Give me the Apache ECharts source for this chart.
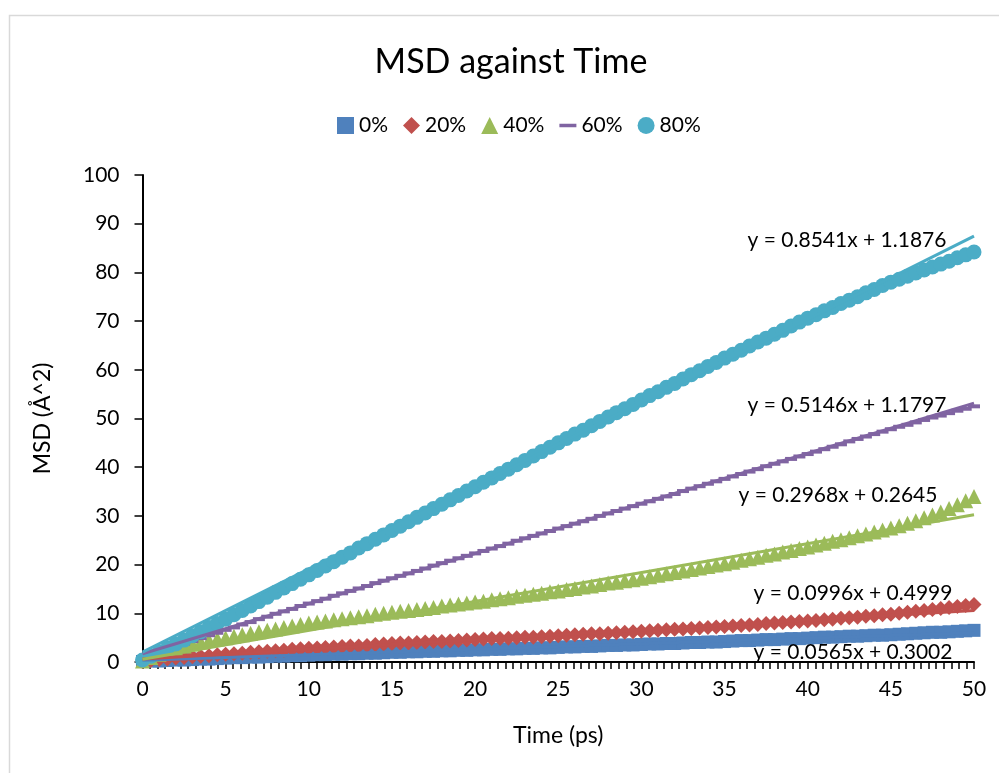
<!DOCTYPE html>
<html>
<head>
<meta charset="utf-8">
<script src="https://cdn.jsdelivr.net/npm/echarts@6/dist/echarts.min.js"></script>
<style>
html,body{margin:0;padding:0;background:#fff;}
#chart{width:999px;height:773px;}
</style>
</head>
<body>
<div id="chart"></div>
<script>
// ---- data ----
const time = [0,0.5,1,1.5,2,2.5,3,3.5,4,4.5,5,5.5,6,6.5,7,7.5,8,8.5,9,9.5,
10,10.5,11,11.5,12,12.5,13,13.5,14,14.5,15,15.5,16,16.5,17,17.5,18,18.5,19,19.5,
20,20.5,21,21.5,22,22.5,23,23.5,24,24.5,25,25.5,26,26.5,27,27.5,28,28.5,29,29.5,
30,30.5,31,31.5,32,32.5,33,33.5,34,34.5,35,35.5,36,36.5,37,37.5,38,38.5,39,39.5,
40,40.5,41,41.5,42,42.5,43,43.5,44,44.5,45,45.5,46,46.5,47,47.5,48,48.5,49,49.5,50];

const msd0 = [0.1,0.2,0.2,0.3,0.4,0.4,0.5,0.6,0.6,0.7,0.8,
0.9,0.9,1.0,1.0,1.1,1.2,1.2,1.3,1.3,1.4,
1.5,1.5,1.6,1.6,1.7,1.7,1.8,1.8,1.9,2.0,
2.0,2.1,2.1,2.2,2.2,2.3,2.3,2.4,2.4,2.5,
2.5,2.6,2.6,2.7,2.7,2.8,2.8,2.9,2.9,3.0,
3.1,3.1,3.2,3.2,3.3,3.4,3.4,3.5,3.5,3.6,
3.7,3.7,3.8,3.8,3.9,4.0,4.0,4.1,4.1,4.2,
4.3,4.4,4.4,4.5,4.6,4.6,4.7,4.8,4.8,4.9,
5.0,5.1,5.1,5.2,5.3,5.3,5.4,5.5,5.5,5.6,
5.7,5.8,5.9,6.0,6.1,6.1,6.2,6.3,6.4,6.5];

const msd20 = [0.1,0.3,0.5,0.6,0.8,0.9,1.1,1.2,1.3,1.5,1.6,
1.7,1.8,2.0,2.1,2.2,2.3,2.4,2.6,2.7,2.8,
2.9,3.0,3.1,3.2,3.3,3.3,3.4,3.6,3.7,3.8,
3.9,3.9,4.0,4.1,4.2,4.2,4.3,4.4,4.5,4.6,
4.7,4.8,4.8,4.9,5.0,5.1,5.1,5.2,5.3,5.4,
5.5,5.6,5.7,5.8,5.8,5.9,6.0,6.1,6.2,6.3,
6.4,6.5,6.6,6.7,6.8,6.9,7.0,7.1,7.2,7.3,
7.4,7.5,7.6,7.7,7.9,8.0,8.1,8.2,8.3,8.4,
8.5,8.7,8.8,9.0,9.1,9.2,9.4,9.5,9.7,9.8,
10.0,10.2,10.4,10.6,10.8,11.0,11.2,11.4,11.6,11.8];

const msd40 = [0.2,0.9,1.6,2.2,2.8,3.3,3.7,4.1,4.4,4.7,5.0,
5.3,5.6,5.9,6.2,6.5,6.8,7.1,7.4,7.7,8.0,
8.2,8.4,8.7,8.9,9.1,9.3,9.5,9.8,10.0,10.2,
10.4,10.6,10.8,11.0,11.2,11.5,11.7,11.9,12.1,12.3,
12.5,12.8,13.0,13.2,13.5,13.7,13.9,14.1,14.4,14.6,
14.9,15.1,15.4,15.6,15.9,16.2,16.4,16.7,16.9,17.2,
17.5,17.8,18.1,18.4,18.7,19.0,19.3,19.6,19.9,20.2,
20.5,20.9,21.2,21.5,21.9,22.2,22.6,22.9,23.3,23.6,
24.0,24.4,24.8,25.1,25.5,25.9,26.3,26.7,27.1,27.5,
28.0,28.5,29.0,29.6,30.2,30.8,31.5,32.3,33.1,34.0];

const msd60 = [0.6,1.3,1.9,2.6,3.2,3.8,4.3,4.9,5.5,6.0,6.6,
7.1,7.7,8.2,8.8,9.3,9.9,10.4,10.9,11.5,12.0,
12.5,13.0,13.6,14.1,14.6,15.1,15.6,16.2,16.7,17.2,
17.7,18.2,18.7,19.2,19.8,20.3,20.8,21.3,21.8,22.3,
22.8,23.3,23.8,24.3,24.9,25.4,25.9,26.4,26.9,27.4,
27.9,28.4,28.9,29.4,30.0,30.5,31.0,31.5,32.0,32.5,
33.0,33.5,34.0,34.5,35.1,35.6,36.1,36.6,37.1,37.6,
38.1,38.6,39.1,39.6,40.2,40.7,41.2,41.7,42.2,42.7,
43.2,43.7,44.2,44.7,45.3,45.8,46.3,46.8,47.3,47.8,
48.3,48.7,49.2,49.7,50.2,50.6,51.1,51.6,52.0,52.5];

const msd80 = [0.4,1.2,2.0,2.8,3.7,4.5,5.4,6.2,7.1,7.9,8.8,
9.7,10.6,11.5,12.4,13.3,14.3,15.2,16.1,17.0,17.9,
18.8,19.7,20.6,21.5,22.4,23.4,24.3,25.2,26.1,27.0,
27.9,28.8,29.7,30.6,31.5,32.4,33.3,34.2,35.1,36.0,
36.9,37.8,38.7,39.6,40.5,41.4,42.3,43.2,44.1,45.0,
45.9,46.8,47.6,48.5,49.4,50.3,51.2,52.0,52.9,53.8,
54.7,55.5,56.4,57.2,58.1,59.0,59.8,60.7,61.5,62.4,
63.2,64.0,64.9,65.7,66.5,67.3,68.1,69.0,69.8,70.6,
71.3,72.1,72.8,73.6,74.3,75.0,75.8,76.5,77.3,78.0,
78.6,79.2,79.9,80.5,81.1,81.7,82.3,83.0,83.6,84.2];

const seriesNames = ['0%','20%','40%','60%','80%'];
const trendSlopes = [0.0565, 0.0996, 0.2968, 0.5146, 0.8541];
const trendIntercepts = [0.3002, 0.4999, 0.2645, 1.1797, 1.1876];
const yTicks = [0,10,20,30,40,50,60,70,80,90,100];
const xTicks = [0,5,10,15,20,25,30,35,40,45,50];

// ---- styling ----
const colors = ['#4F81BD','#C0504D','#9BBB59','#8064A2','#4BACC6'];
const symbols = ['rect','diamond','triangle','rect','circle'];
const symbolSizes = [13,15,15,[12,4],15];
const dashIcon = 'path://M0,0L14,0L14,0.01L0,0.01Z M0,5.6L14,5.6L14,8.4L0,8.4Z M0,13.99L14,13.99L14,14L0,14Z';
const legendIcons = ['rect','diamond','triangle',dashIcon,'circle'];
const FONT = 'Lato';

const allData = [msd0, msd20, msd40, msd60, msd80];

const series = [];
allData.forEach((vals, k) => {
  series.push({
    name: seriesNames[k],
    type: 'scatter',
    clip: false,
    symbol: symbols[k],
    symbolSize: symbolSizes[k],
    itemStyle: {color: colors[k], opacity: 1},
    data: time.map((t, i) => [t, vals[i]]),
    z: 2 + k,
    silent: true
  });
});
// trendlines (Excel linear fits; x in the equation is the point number 1..n)
allData.forEach((vals, k) => {
  const n = time.length;
  const m = trendSlopes[k], b = trendIntercepts[k];
  series.push({
    name: seriesNames[k] + ' trend',
    type: 'line',
    clip: false,
    symbol: 'none',
    lineStyle: {color: colors[k], width: 3},
    data: [[time[0], m * 1 + b], [time[n - 1], m * n + b]],
    z: 10,
    silent: true
  });
});

const trendLabels = trendSlopes.map((m, k) => 'y = ' + m.toFixed(4) + 'x + ' + trendIntercepts[k].toFixed(4));
const labelPos = [[853,652],[853,593],[838,495],[847,405],[847,240]];

const chart = echarts.init(document.getElementById('chart'), null, {renderer: 'canvas'});
chart.setOption({
  animation: false,
  backgroundColor: '#ffffff',
  textStyle: {fontFamily: FONT},
  grid: {left: 142.5, right: 25, top: 175, bottom: 111, containLabel: false},
  legend: {
    data: seriesNames.map((n, k) => ({name: n, icon: legendIcons[k]})),
    left: 332, top: 110,
    itemWidth: 17, itemHeight: 17, itemGap: 15,
    textStyle: {fontFamily: FONT, fontSize: 21, color: '#000'},
    selectedMode: false
  },
  xAxis: {
    type: 'value', min: 0, max: 50, interval: 5,
    name: 'Time (ps)', nameLocation: 'middle', nameGap: 62,
    nameTextStyle: {fontFamily: FONT, fontSize: 23, color: '#000'},
    axisLine: {show: true, lineStyle: {color: '#000', width: 2}},
    axisTick: {show: true, inside: false, length: 7, lineStyle: {color: '#000', width: 1.5}},
    minorTick: {show: true, splitNumber: 11, length: 7, lineStyle: {color: '#000', width: 1.5}},
    axisLabel: {fontFamily: FONT, fontSize: 21, color: '#000', margin: 17,
      formatter: v => xTicks.includes(v) ? String(v) : ''},
    splitLine: {show: false}
  },
  yAxis: {
    type: 'value', min: 0, max: 100, interval: 10,
    name: 'MSD (Å^2)', nameLocation: 'middle', nameGap: 88,
    nameTextStyle: {fontFamily: FONT, fontSize: 23, color: '#000'},
    axisLine: {show: true, lineStyle: {color: '#000', width: 2}},
    axisTick: {show: true, inside: false, length: 8, lineStyle: {color: '#000', width: 1.5}},
    axisLabel: {fontFamily: FONT, fontSize: 21, color: '#000', margin: 23,
      formatter: v => yTicks.includes(v) ? String(v) : ''},
    splitLine: {show: false}
  },
  graphic: [
    {type: 'rect', silent: true, shape: {x: 9.5, y: 15.5, width: 1200, height: 1000},
     style: {fill: 'none', stroke: '#d9d9d9', lineWidth: 1.5}, z: -10},
    {type: 'text', silent: true, x: 511, y: 62,
     style: {text: 'MSD against Time', font: '34px ' + FONT, fill: '#000', textAlign: 'center', textVerticalAlign: 'middle'}}
  ].concat(trendLabels.map((t, k) => ({
    type: 'text', silent: true, z: 100,
    x: labelPos[k][0], y: labelPos[k][1],
    style: {text: t, font: '21px ' + FONT, fill: '#000', textAlign: 'center', textVerticalAlign: 'middle'}
  }))),
  series: series
});
</script>
</body>
</html>
